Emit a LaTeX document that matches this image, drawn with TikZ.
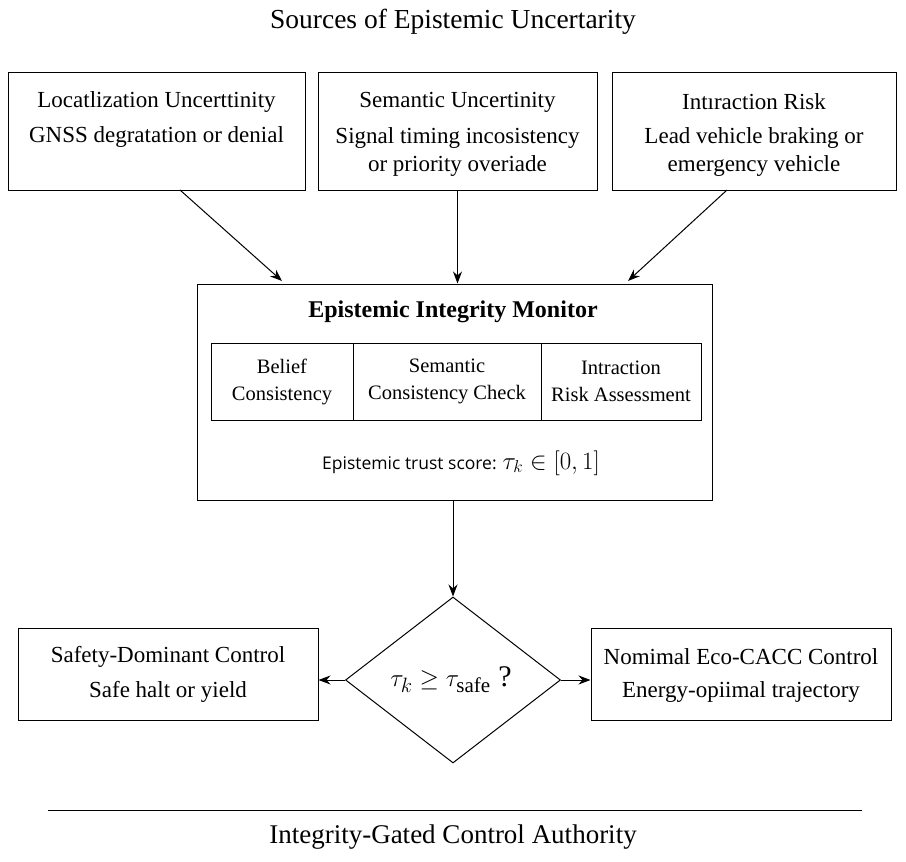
\documentclass[tikz,border=0pt]{standalone}
\usepackage{fontspec}
\setmainfont{Liberation Serif}
\newfontfamily\sansf{Open Sans}
\usetikzlibrary{shapes.geometric,arrows.meta}
\begin{document}
\begin{tikzpicture}[x=1pt,y=-1pt,
  box/.style={draw,line width=1pt,rectangle},
  arr/.style={-{Stealth[length=12pt,width=9pt]},line width=1pt},
  txt/.style={font=\fontsize{23}{28}\selectfont,align=center}]
\useasboundingbox (0,0) rectangle (906,862);
\node[font=\fontsize{27.5}{30}\selectfont] (title) at (453,22) {Sources of Epistemic Uncertarity};
\node[box,minimum width=297pt,minimum height=118pt] (b1) at (156.5,131) {};
\node[box,minimum width=279pt,minimum height=118pt] (b2) at (457.5,131) {};
\node[box,minimum width=284pt,minimum height=118pt] (b3) at (754,131) {};
\node[txt] (t1) at (156.5,102) {Locatlization Uncerttinity};
\node[txt] (s1) at (156.5,137) {GNSS degratation or denial};
\node[txt] (t2) at (457.5,102) {Semantic Uncertinity};
\node[txt] (s2) at (457.5,152) {Signal timing incosistency\\or priority overiade};
\node[txt] (t3) at (754,102) {Intıraction Risk};
\node[txt] (s3) at (754,152) {Lead vehicle braking or\\emergency vehicle};
\node[box,minimum width=515pt,minimum height=216pt] (mon) at (454.5,392) {};
\node[txt,font=\fontsize{24}{28}\selectfont\bfseries] (mt) at (453,312) {Epistemic Integrity Monitor};
\node[box,minimum width=142pt,minimum height=77pt] (c1) at (282,381.5) {};
\node[box,minimum width=188pt,minimum height=77pt] (c2) at (447,381.5) {};
\node[box,minimum width=160pt,minimum height=77pt] (c3) at (621,381.5) {};
\node[txt,font=\fontsize{20.5}{27}\selectfont] at (282,381.5) {Belief\\Consistency};
\node[txt,font=\fontsize{20.5}{27}\selectfont] at (447,381.5) {Semantic\\Consistency Check};
\node[txt,font=\fontsize{20.5}{27}\selectfont] at (621,381.5) {Intraction\\Risk Assessment};
\node[font=\sansf\fontsize{17.5}{22}\selectfont] (ts) at (461,463) {Epistemic trust score: \fontsize{24}{26}\selectfont$\tau_k\in[0,1]$};
\node[draw,line width=1pt,diamond,minimum width=215pt,minimum height=166pt,inner sep=0pt] (d) at (453,680) {};
\node[font=\fontsize{30}{32}\selectfont] at (451,680) {$\tau_k\geq\tau_{\mathrm{safe}}$ ?};
\node[box,minimum width=300pt,minimum height=92pt] (l) at (168,674) {};
\node[txt] at (168,657) {Safety-Dominant Control};
\node[txt] at (168,692) {Safe halt or yield};
\node[box,minimum width=300pt,minimum height=92pt] (r) at (741,674) {};
\node[txt] at (741,657) {Nomimal Eco-CACC Control};
\node[txt] at (741,692) {Energy-opiimal trajectory};
\coordinate (a1) at (180,190); \coordinate (e1) at (282,281);
\coordinate (a3) at (727,190); \coordinate (e3) at (628,281);
\draw[arr] (a1) -- (e1);
\draw[arr] (b2.south) -- (mon.north -| b2.south) ;
\draw[arr] (a3) -- (e3);
\draw[arr] (mon.south -| d.north) -- (d.north);
\draw[arr] (d.west) -- (l.east |- d.west);
\draw[arr] (d.east) -- (r.west |- d.east);
\coordinate (h1) at (48,810); \coordinate (h2) at (862,810);
\draw[line width=0.8pt] (h1) -- (h2);
\node[font=\fontsize{27}{30}\selectfont] (bt) at (453,837) {Integrity-Gated Control Authority};
\end{tikzpicture}
\end{document}
